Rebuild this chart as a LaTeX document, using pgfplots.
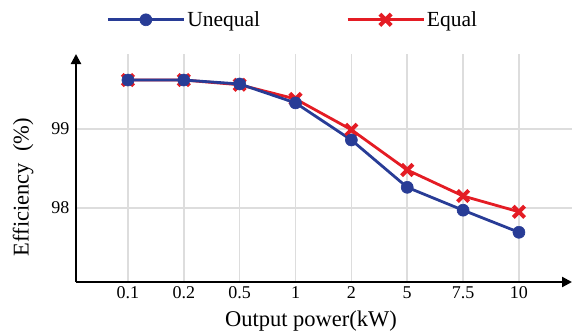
\documentclass[border=0pt]{standalone}
\usepackage{fontspec}
\setmainfont{Liberation Serif}
\usepackage{pgfplots}
\pgfplotsset{compat=1.18}
\usetikzlibrary{arrows.meta}
\definecolor{ublue}{RGB}{40,60,150}
\definecolor{ered}{RGB}{228,28,36}
\definecolor{gridc}{RGB}{221,221,221}
\begin{document}
\begin{tikzpicture}
\path[use as bounding box] (-76pt,-53pt) rectangle (496pt,282pt);
\begin{axis}[
  at={(0,0)}, anchor=south west,
  scale only axis, width=496pt, height=228pt,
  xmin=-0.93, xmax=7.95, ymin=97.06, ymax=99.95,
  axis lines=left,
  axis line style={line width=2.2pt, -{Triangle[length=10pt,width=10pt]}},
  xtick={0,...,7}, xticklabels={0.1,0.2,0.5,1,2,5,7.5,10},
  ytick={98,99},
  major tick length=0pt,
  grid=major, grid style={gridc, line width=1.6pt},
  tick label style={font=\fontsize{18}{20}\selectfont},
  /pgf/number format/assume math mode=true,
  xticklabel style={yshift=-1pt},
  yticklabel style={xshift=-3pt},
  xlabel={Output power(kW)},
  ylabel={Efficiency\ \ (\%)},
  label style={font=\fontsize{22.5}{26}\selectfont},
  xlabel style={yshift=-5pt, xshift=-13pt},
  ylabel style={xshift=-19pt, yshift=11pt},
  legend columns=2,
  reverse legend,
  legend style={draw=none, fill=none, at={(0.055,1.15)}, anchor=west,
    font=\fontsize{21.5}{24}\selectfont,
    /tikz/every even column/.append style={column sep=84pt}},
  legend image code/.code={\draw[mark repeat=2,mark phase=2] plot coordinates {(0pt,0pt)(38pt,0pt)(76pt,0pt)};},
]
\addplot[ered, line width=2.8pt, mark=x, mark size=8pt, mark options={line width=4pt}]
  coordinates {(0,99.62)(1,99.62)(2,99.56)(3,99.38)(4,98.99)(5,98.48)(6,98.15)(7,97.95)};
\addlegendentry{Equal}
\addplot[ublue, line width=2.8pt, mark=*, mark size=6pt, mark options={line width=0.6pt}]
  coordinates {(0,99.62)(1,99.62)(2,99.57)(3,99.33)(4,98.86)(5,98.26)(6,97.97)(7,97.69)};
\addlegendentry{Unequal}
\end{axis}
\end{tikzpicture}
\end{document}
